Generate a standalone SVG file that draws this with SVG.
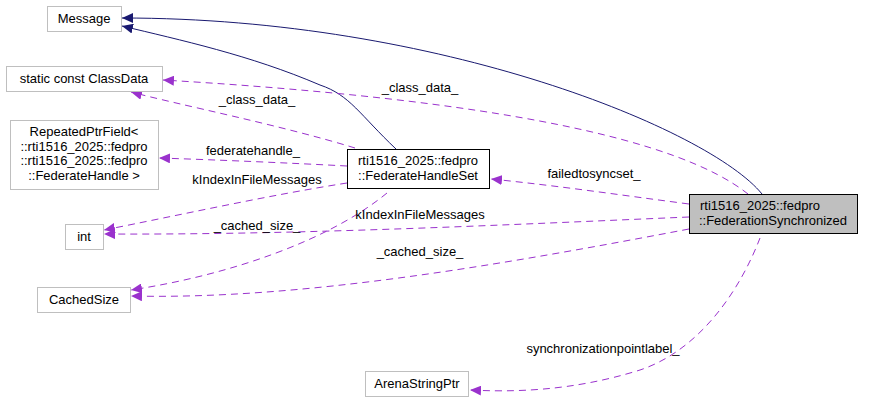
<svg xmlns="http://www.w3.org/2000/svg" width="872" height="403" viewBox="0 0 872 403">
<style>
text{font-family:"Liberation Sans",Arial,sans-serif;font-size:13px;fill:#000}
.n{fill:#fff;stroke:#bfbfbf}
.m{fill:#fff;stroke:#000}
.inh{fill:none;stroke:#191970}
.use{fill:none;stroke:#9a32cd;stroke-dasharray:7,5}
</style>
<defs>
<marker id="ai" markerWidth="12" markerHeight="10" refX="11" refY="5" orient="auto" markerUnits="userSpaceOnUse"><path d="M0,0 L11,5 L0,10 Z" fill="#191970"/></marker>
<marker id="au" markerWidth="12" markerHeight="10" refX="11" refY="5" orient="auto" markerUnits="userSpaceOnUse"><path d="M0,0 L11,5 L0,10 Z" fill="#9a32cd"/></marker>
</defs>
<rect width="872" height="403" fill="#fff"/>
<g id="edges">
<path class="inh" d="M762,194 C710,130 440,18 122,18" marker-end="url(#ai)"/>
<path class="inh" d="M396,149 C360,115 350,95 320,85 C250,55 180,40 122,26" marker-end="url(#ai)"/>
<path class="use" d="M748,194 C680,140 500,100 163,80" marker-end="url(#au)"/>
<path class="use" d="M355,148 C280,125 180,105 131,92" marker-end="url(#au)"/>
<path class="use" d="M347,166 C290,163 220,160 159,158" marker-end="url(#au)"/>
<path class="use" d="M347,183 C270,195 180,215 104,230" marker-end="url(#au)"/>
<path class="use" d="M689,217 C500,225 300,235 104,234" marker-end="url(#au)"/>
<path class="use" d="M689,204 C620,195 560,186 491,179" marker-end="url(#au)"/>
<path class="use" d="M387,193 C330,240 230,275 131,290" marker-end="url(#au)"/>
<path class="use" d="M689,229 C500,265 300,300 131,296" marker-end="url(#au)"/>
<path class="use" d="M760,238 C740,290 700,350 640,370 C570,392 510,392 470,390" marker-end="url(#au)"/>
</g>
<g id="edge-labels">
<text x="420" y="92" text-anchor="middle">_class_data_</text>
<text x="257" y="104" text-anchor="middle">_class_data_</text>
<text x="253" y="155" text-anchor="middle">federatehandle_</text>
<text x="257" y="184" text-anchor="middle">kIndexInFileMessages</text>
<text x="420" y="219" text-anchor="middle">kIndexInFileMessages</text>
<text x="594" y="178" text-anchor="middle">failedtosyncset_</text>
<text x="257" y="230" text-anchor="middle">_cached_size_</text>
<text x="420" y="256" text-anchor="middle">_cached_size_</text>
<text x="603" y="353" text-anchor="middle">synchronizationpointlabel_</text>
</g>
<g id="Message"><rect class="n" x="47.5" y="6.5" width="74" height="25"/><text x="84" y="23" text-anchor="middle">Message</text></g>
<g id="ClassData"><rect class="n" x="6.5" y="66.5" width="156" height="25"/><text x="84" y="83" text-anchor="middle">static const ClassData</text></g>
<g id="RepeatedPtrField"><rect class="n" x="10.5" y="120.5" width="148" height="69"/>
<text x="84" y="136" text-anchor="middle">RepeatedPtrField&lt;</text>
<text x="84" y="151" text-anchor="middle">::rti1516_2025::fedpro</text>
<text x="84" y="165" text-anchor="middle">::rti1516_2025::fedpro</text>
<text x="84" y="180" text-anchor="middle">::FederateHandle &gt;</text></g>
<g id="int"><rect class="n" x="65.5" y="224.5" width="38" height="25"/><text x="84" y="241" text-anchor="middle">int</text></g>
<g id="CachedSize"><rect class="n" x="37.5" y="287.5" width="93" height="25"/><text x="84" y="304" text-anchor="middle">CachedSize</text></g>
<g id="FederateHandleSet"><rect class="m" x="347.5" y="149.5" width="142" height="39"/>
<text x="418" y="165" text-anchor="middle">rti1516_2025::fedpro</text>
<text x="418" y="180" text-anchor="middle">::FederateHandleSet</text></g>
<g id="FederationSynchronized"><rect x="689.5" y="194.5" width="168" height="39" fill="#bfbfbf" stroke="#000"/>
<text x="700" y="210">rti1516_2025::fedpro</text>
<text x="773" y="225" text-anchor="middle">::FederationSynchronized</text></g>
<g id="ArenaStringPtr"><rect class="n" x="365.5" y="371.5" width="103" height="25"/><text x="417" y="388" text-anchor="middle">ArenaStringPtr</text></g>
</svg>
